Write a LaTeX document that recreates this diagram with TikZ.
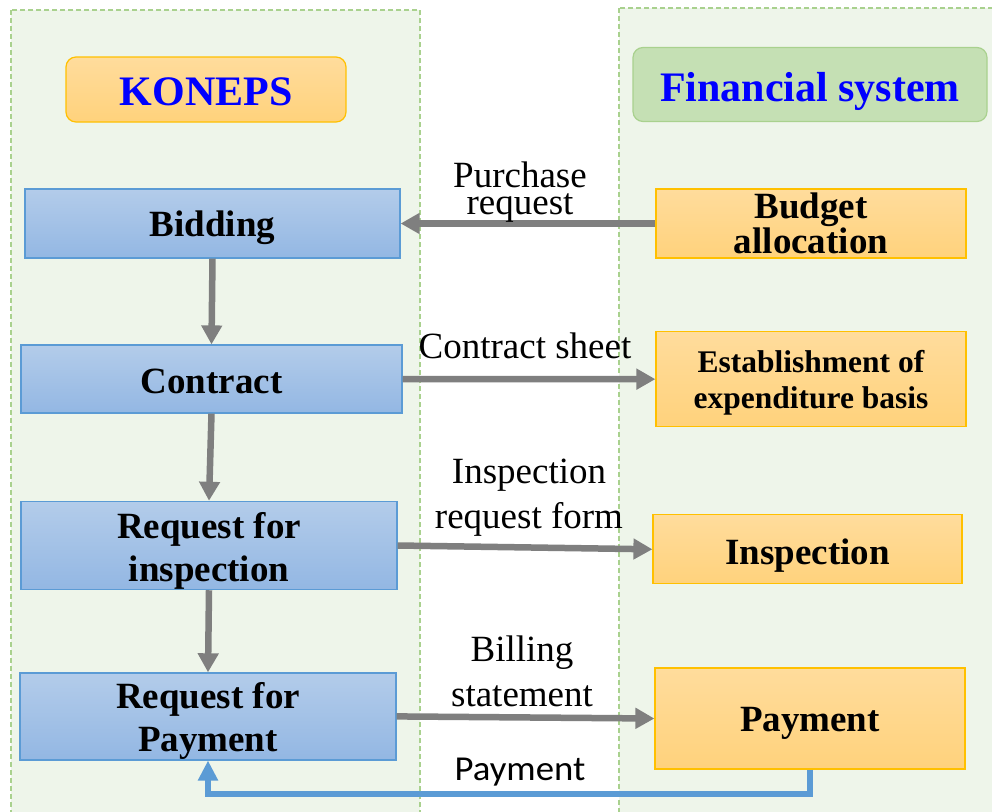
\documentclass[tikz,border=0pt]{standalone}
\usepackage{fontspec}
\setmainfont{Liberation Serif}
\newfontfamily\calibrilike{Carlito}[FakeStretch=1.05]
\usetikzlibrary{arrows.meta}
\definecolor{panelfill}{HTML}{EEF5EA}
\definecolor{paneldash}{HTML}{A9D18E}
\definecolor{bluebd}{HTML}{5B9BD5}
\definecolor{bluetop}{HTML}{B3CCEA}
\definecolor{bluebot}{HTML}{93B7E3}
\definecolor{orbd}{HTML}{FFC000}
\definecolor{ortop}{HTML}{FFDC9C}
\definecolor{orbot}{HTML}{FFD27C}
\definecolor{greenbox}{HTML}{C5E0B4}
\definecolor{greenbd}{HTML}{A9D18E}
\definecolor{arrgray}{HTML}{7F7F7F}
\definecolor{titleblue}{HTML}{0000FF}
\begin{document}
\begin{tikzpicture}[x=1pt,y=-1pt,
  panel/.style={draw=paneldash,fill=panelfill,line width=1.5pt,dash pattern=on 5pt off 3pt},
  bluebox/.style={draw=bluebd,line width=1.2pt,top color=bluetop,bottom color=bluebot,inner sep=0pt,align=center,font=\bfseries\fontsize{37}{43.4}\selectfont},
  orbox/.style={draw=orbd,line width=1.2pt,top color=ortop,bottom color=orbot,inner sep=0pt,align=center,font=\bfseries\fontsize{37}{43.4}\selectfont},
  kbox/.style={draw=orbd,line width=1.2pt,top color=ortop,bottom color=orbot,rounded corners=10pt,inner sep=0pt,text=titleblue,font=\bfseries\fontsize{42}{46}\selectfont},
  gbox/.style={draw=greenbd,line width=1.2pt,fill=greenbox,rounded corners=10pt,inner sep=0pt,text=titleblue,font=\bfseries\fontsize{42}{46}\selectfont},
  tpos/.style={text height=#1,text depth=8pt},
  lbl/.style={inner sep=0pt,align=center,font=\fontsize{37}{45}\selectfont},
  garrow/.style={draw=arrgray,line width=6.5pt,-{Triangle[length=19pt,width=20pt]}},
  barrow/.style={draw=bluebd,line width=5.5pt,-{Triangle[length=20pt,width=19pt]}}
]
\useasboundingbox (0,0) rectangle (992,811);
\fill[white] (0,0) rectangle (992,811);
\path[panel] (11,10) rectangle (420,840);
\path[panel] (619,8) rectangle (1010,840);

\node[kbox,minimum width=280pt,minimum height=65pt,text height=31pt,text depth=0pt] (kon) at (206,89.5) {KONEPS};
\node[gbox,minimum width=354pt,minimum height=74pt,text height=43.4pt,text depth=9pt] (fin) at (810,84.5) {Financial system};

\node[bluebox,minimum width=375pt,minimum height=69pt,tpos=34.6pt] (bid) at (212.5,223.5) {Bidding};
\node[bluebox,minimum width=381pt,minimum height=68pt,tpos=36.2pt] (con) at (211.5,379) {Contract};
\node[bluebox,minimum width=376pt,minimum height=88pt] (reqi) at (209,545.5) {\rule{0pt}{37pt}Request for\\inspection};
\node[bluebox,minimum width=376pt,minimum height=87pt] (reqp) at (208,716.4) {\rule{0pt}{35.5pt}Request for\\Payment};

\node[orbox,minimum width=310pt,minimum height=69pt,font=\bfseries\fontsize{37}{29}\selectfont] (bud) at (811,223.5) {Budget\\allocation};
\node[orbox,minimum width=310pt,minimum height=95pt,font=\bfseries\fontsize{31.5}{36}\selectfont] (est) at (811,379.2) {\rule{0pt}{29pt}Establishment of\\expenditure basis};
\node[orbox,minimum width=309pt,minimum height=69pt,tpos=38pt] (insp) at (807.5,549.3) {Inspection};
\node[orbox,minimum width=310pt,minimum height=101pt,tpos=34.4pt] (pay) at (810,718.5) {Payment};

\draw[garrow] (bud) -- (bid);
\draw[garrow] (con) -- (est);
\draw[garrow] (reqi.east) -- (insp.west);
\draw[garrow] (reqp.east) -- (pay.west);
\draw[garrow] (bid.south) -- (con.north);
\draw[garrow] (con.south) -- (reqi.north);
\draw[garrow] (reqi.south) -- (reqp.north);

\coordinate (turn) at (810,794);
\draw[barrow] (pay.south) -- (turn) -| (reqp.south);

\node[lbl,font=\fontsize{37}{27}\selectfont] (lpr) at (520,192.5) {Purchase\\request};
\node[lbl] (lcs) at (525,345.7) {Contract sheet};
\node[lbl] (lirf) at (529,497.5) {Inspection\\request form};
\node[lbl] (lbs) at (522,671.5) {Billing\\statement};
\node[lbl,fill=white,inner sep=3pt,font=\calibrilike\fontsize{35}{40}\selectfont] (lpay) at (520,772.5) {Payment};
\end{tikzpicture}
\end{document}
